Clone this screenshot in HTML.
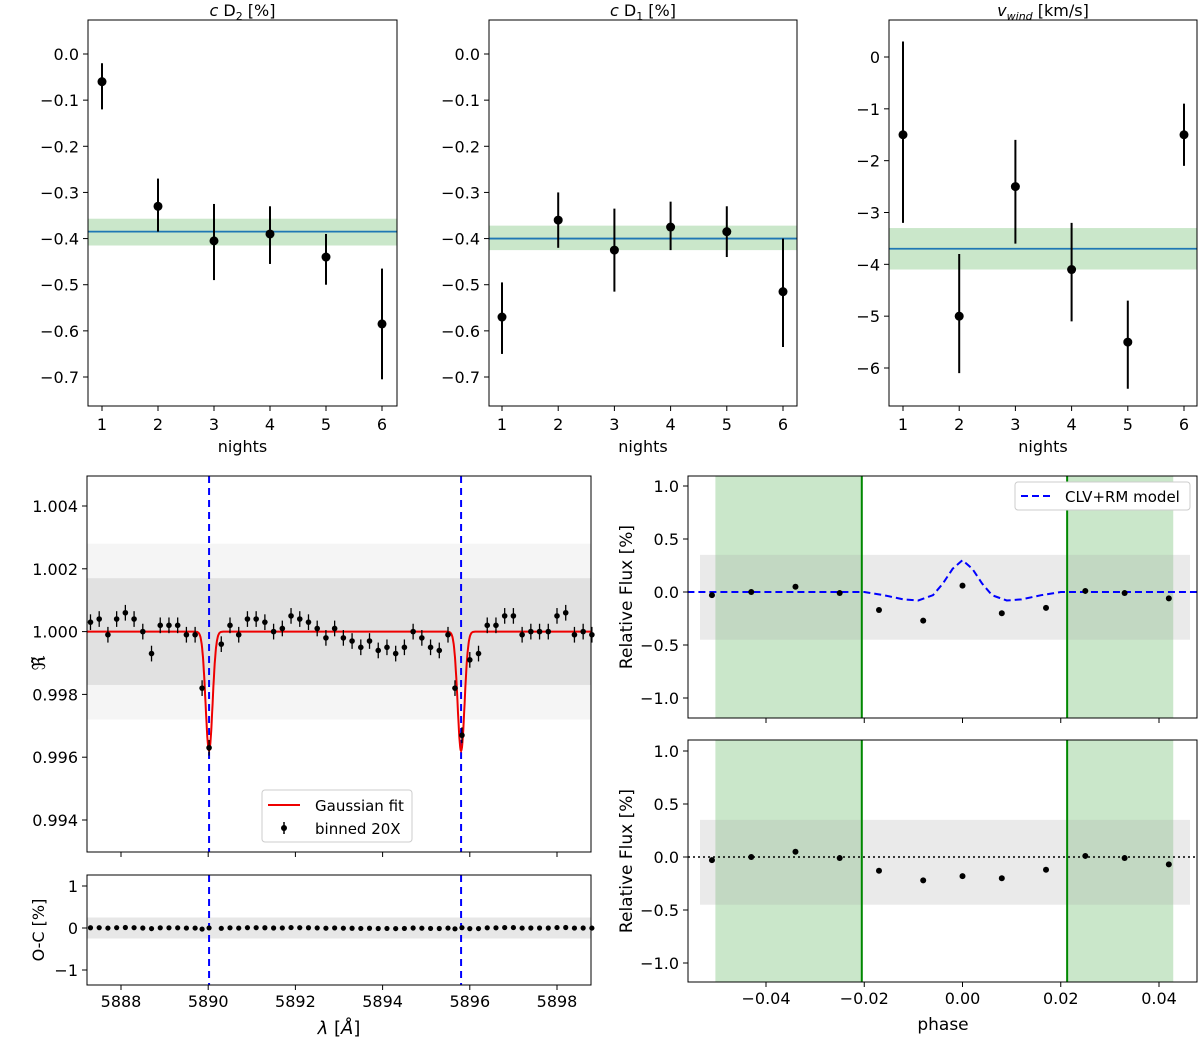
<!DOCTYPE html>
<html><head><meta charset="utf-8"><style>
body{margin:0;background:#fff;}
svg{display:block;font-family:"DejaVu Sans","Liberation Sans",sans-serif;}
</style></head><body>
<svg id="c" width="1200" height="1042" xmlns="http://www.w3.org/2000/svg"></svg>
<script>
const nights=[1,2,3,4,5,6];
const d2Val=[-0.06,-0.33,-0.405,-0.39,-0.44,-0.585];
const d2Lo=[-0.12,-0.385,-0.49,-0.455,-0.5,-0.705];
const d2Hi=[-0.02,-0.27,-0.325,-0.33,-0.39,-0.465];
const d2Mean=[-0.385,-0.357,-0.415];
const d1Val=[-0.57,-0.36,-0.425,-0.375,-0.385,-0.515];
const d1Lo=[-0.65,-0.42,-0.515,-0.425,-0.44,-0.635];
const d1Hi=[-0.495,-0.30,-0.335,-0.32,-0.33,-0.40];
const d1Mean=[-0.40,-0.372,-0.425];
const wVal=[-1.5,-5.0,-2.5,-4.1,-5.5,-1.5];
const wLo=[-3.2,-6.1,-3.6,-5.1,-6.4,-2.1];
const wHi=[0.3,-3.8,-1.6,-3.2,-4.7,-0.9];
const wMean=[-3.7,-3.3,-4.1];
const specWl=[5887.3,5887.5,5887.7,5887.9,5888.1,5888.3,5888.5,5888.7,5888.9,5889.1,5889.3,5889.5,5889.7,5889.86,5890.02,5890.3,5890.5,5890.7,5890.9,5891.1,5891.3,5891.5,5891.7,5891.9,5892.1,5892.3,5892.5,5892.7,5892.9,5893.1,5893.3,5893.5,5893.7,5893.9,5894.1,5894.3,5894.5,5894.7,5894.9,5895.1,5895.3,5895.5,5895.66,5895.82,5896.0,5896.2,5896.4,5896.6,5896.8,5897.0,5897.2,5897.4,5897.6,5897.8,5898.0,5898.2,5898.4,5898.6,5898.8];
const specVal=[1.0003,1.0004,0.9999,1.0004,1.0006,1.0004,1.0000,0.9993,1.0002,1.0002,1.0002,0.9999,0.9999,0.9982,0.9963,0.9996,1.0002,0.9999,1.0004,1.0004,1.0003,1.0000,1.0001,1.0005,1.0004,1.0003,1.0001,0.9998,1.0001,0.9998,0.9997,0.9995,0.9997,0.9994,0.9995,0.9993,0.9995,1.0000,0.9998,0.9995,0.9994,0.9999,0.9982,0.9967,0.9991,0.9993,1.0002,1.0002,1.0005,1.0005,0.9999,1.0000,1.0000,1.0000,1.0005,1.0006,0.9999,1.0000,0.9999];
const lineCenters=[5890.02,5895.8];
const gaussDepth=0.0038, gaussSigma=0.08;
const phase=[-0.051,-0.043,-0.034,-0.025,-0.017,-0.008,0.0,0.008,0.017,0.025,0.033,0.042];
const fluxTop=[-0.03,0.0,0.05,-0.01,-0.17,-0.27,0.06,-0.2,-0.15,0.01,-0.01,-0.06];
const fluxBot=[-0.03,0.0,0.05,-0.01,-0.13,-0.22,-0.18,-0.2,-0.12,0.01,-0.01,-0.07];
const modelPh=[-0.056,-0.02,-0.016,-0.012,-0.009,-0.006,-0.004,-0.002,0.0,0.002,0.004,0.006,0.009,0.012,0.016,0.02,0.048];
const modelVal=[0,0,-0.03,-0.07,-0.08,-0.03,0.08,0.22,0.3,0.22,0.08,-0.03,-0.08,-0.07,-0.03,0,0];
const transitEdges=[-0.0503,-0.0205,0.0213,0.0429];

const S=document.getElementById('c');const NS='http://www.w3.org/2000/svg';
function el(t,a,p){const e=document.createElementNS(NS,t);for(const k in a)e.setAttribute(k,a[k]);(p||S).appendChild(e);return e;}
function txt(x,y,s,a,p){const e=el('text',Object.assign({x:x,y:y,'font-size':16,fill:'#000'},a||{}),p);e.textContent=s;return e;}
function lin(a,b,c,d){return v=>c+(v-a)*(d-c)/(b-a);}

function topPanel(name,x0,x1,title,xs,ys,yt,val,lo,hi,mean,yticks,fmt){
 const g=el('g',{});
 const X=lin(1,6,xs[0],xs[1]), Y=lin(yt[0],yt[1],yt[2],yt[3]);
 const band=el('rect',{x:x0,y:Y(mean[1]),width:x1-x0,height:Y(mean[2])-Y(mean[1]),fill:'#2ca02c','fill-opacity':0.25},g);
 
 const ml=el('line',{x1:x0,x2:x1,y1:Y(mean[0]),y2:Y(mean[0]),stroke:'#1f77b4','stroke-width':1.8},g);
 
 for(let i=0;i<nights.length;i++){
  const e=el('line',{x1:X(nights[i]),x2:X(nights[i]),y1:Y(lo[i]),y2:Y(hi[i]),stroke:'#000','stroke-width':2},g);
  
  const c=el('circle',{cx:X(nights[i]),cy:Y(val[i]),r:4.5,fill:'#000'},g);
  
 }
 el('rect',{x:x0,y:20,width:x1-x0,height:386,fill:'none',stroke:'#000','stroke-width':1},g);
 for(const n of nights){el('line',{x1:X(n),x2:X(n),y1:406,y2:411,stroke:'#000'},g);txt(X(n),430,String(n),{'text-anchor':'middle'},g);}
 for(const t of yticks){el('line',{x1:x0-5,x2:x0,y1:Y(t),y2:Y(t),stroke:'#000'},g);txt(x0-9,Y(t)+6,fmt(t),{'text-anchor':'end'},g);}
 txt((x0+x1)/2,452,'nights',{'text-anchor':'middle'},g);
 const tt=txt((x0+x1)/2,16,'',{'text-anchor':'middle'},g);tt.innerHTML=title;
}
const f1=t=>(t===0?'0.0':t.toFixed(1).replace('-','\u2212'));
const yt1=[0,-0.1,-0.2,-0.3,-0.4,-0.5,-0.6,-0.7];
topPanel('panel-c-d2',88,397,'<tspan font-style="italic">c</tspan> D<tspan font-size="11" dy="4">2</tspan><tspan dy="-4"> [%]</tspan>',[102,382],0,[0,-0.7,54,377],d2Val,d2Lo,d2Hi,d2Mean,yt1,f1);
topPanel('panel-c-d1',489,797,'<tspan font-style="italic">c</tspan> D<tspan font-size="11" dy="4">1</tspan><tspan dy="-4"> [%]</tspan>',[502,783],0,[0,-0.7,54,377],d1Val,d1Lo,d1Hi,d1Mean,yt1,f1);
topPanel('panel-v-wind',889,1197,'<tspan font-style="italic">v</tspan><tspan font-style="italic" font-size="11" dy="4">wind</tspan><tspan dy="-4"> [km/s]</tspan>',[903,1184],0,[0,-6,57,368],wVal,wLo,wHi,wMean,[0,-1,-2,-3,-4,-5,-6],t=>String(t).replace('-','\u2212'));

const XW=lin(5888,5898,121,557), YS=lin(1.004,0.994,506,820);
const g1=el('g',{});
el('rect',{x:87,y:YS(1.0017),width:504,height:YS(0.9983)-YS(1.0017),fill:'#bbb','fill-opacity':0.35},g1);
el('rect',{x:87,y:YS(1.0028),width:504,height:YS(0.9972)-YS(1.0028),fill:'#ccc','fill-opacity':0.2},g1);
for(const c of lineCenters){const l=el('line',{x1:XW(c),x2:XW(c),y1:476,y2:852,stroke:'#0000ff','stroke-width':2,'stroke-dasharray':'7,5'},g1);}
let pd='';for(let w=5887.22;w<=5898.78;w+=0.01){let v=1;for(const c of lineCenters)v-=gaussDepth*Math.exp(-((w-c)**2)/(2*gaussSigma**2));pd+=(pd?'L':'M')+XW(w).toFixed(1)+','+YS(v).toFixed(1);}
const gf=el('path',{d:pd,fill:'none',stroke:'#e00','stroke-width':2},g1);
for(let i=0;i<specWl.length;i++){
 el('line',{x1:XW(specWl[i]),x2:XW(specWl[i]),y1:YS(specVal[i]+0.00025),y2:YS(specVal[i]-0.00025),stroke:'#000','stroke-width':1.3},g1);
 const c=el('circle',{cx:XW(specWl[i]),cy:YS(specVal[i]),r:2.8,fill:'#000'},g1);
}
el('rect',{x:87,y:476,width:504,height:376,fill:'none',stroke:'#000'},g1);
for(const t of [1.004,1.002,1.000,0.998,0.996,0.994]){el('line',{x1:82,x2:87,y1:YS(t),y2:YS(t),stroke:'#000'},g1);txt(78,YS(t)+6,t.toFixed(3),{'text-anchor':'end'},g1);}
for(let t=5888;t<=5898;t+=2)el('line',{x1:XW(t),x2:XW(t),y1:852,y2:857,stroke:'#000'},g1);
txt(40,668,'ℜ̃',{'text-anchor':'middle',transform:'rotate(-90 40 663)','font-size':18},g1);
const lg=el('g',{},g1);
el('rect',{x:262,y:790,width:150,height:52,fill:'#fff',stroke:'#ccc',rx:3},lg);
el('line',{x1:268,x2:300,y1:805,y2:805,stroke:'#e00','stroke-width':2},lg);txt(315,811,'Gaussian fit',{'font-size':15},lg);
el('line',{x1:284,x2:284,y1:822,y2:834,stroke:'#000','stroke-width':1.5},lg);el('circle',{cx:284,cy:828,r:3,fill:'#000'},lg);txt(315,834,'binned 20X',{'font-size':15},lg);

const YO=lin(1,-1,886,970);
const g2=el('g',{});
el('rect',{x:87,y:YO(0.25),width:504,height:YO(-0.25)-YO(0.25),fill:'#bbb','fill-opacity':0.35},g2);
for(const c of lineCenters)el('line',{x1:XW(c),x2:XW(c),y1:875,y2:985,stroke:'#0000ff','stroke-width':2,'stroke-dasharray':'7,5'},g2);
for(let i=0;i<specWl.length;i++){let m=1;for(const c of lineCenters)m-=gaussDepth*Math.exp(-((specWl[i]-c)**2)/(2*gaussSigma**2));const r=(specVal[i]-m)*20;const c=el('circle',{cx:XW(specWl[i]),cy:YO(r),r:2.6,fill:'#000'},g2);}
el('rect',{x:87,y:875,width:504,height:110,fill:'none',stroke:'#000'},g2);
for(const t of [1,0,-1]){el('line',{x1:82,x2:87,y1:YO(t),y2:YO(t),stroke:'#000'},g2);txt(78,YO(t)+6,String(t).replace('-','\u2212'),{'text-anchor':'end'},g2);}
for(let t=5888;t<=5898;t+=2){el('line',{x1:XW(t),x2:XW(t),y1:985,y2:990,stroke:'#000'},g2);txt(XW(t),1007,String(t),{'text-anchor':'middle'},g2);}
txt(44,930,'O-C [%]',{'text-anchor':'middle',transform:'rotate(-90 44 930)'},g2);
txt(339,1034,'',{'text-anchor':'middle','font-size':18},g2).innerHTML='<tspan font-style="italic">λ</tspan> [<tspan font-style="italic">Å</tspan>]';

const XP=lin(-0.04,0.04,766,1159);
function phasePanel(name,y0,y1,yz,vals,model){
 const YP=lin(1,-1,yz-106,yz+106);
 const g=el('g',{});
 for(const [a,b] of [[0,1],[2,3]]){const r=el('rect',{x:XP(transitEdges[a]),y:y0,width:XP(transitEdges[b])-XP(transitEdges[a]),height:y1-y0,fill:'#2ca02c','fill-opacity':0.25},g);}
 el('rect',{x:700,y:YP(0.35),width:490,height:YP(-0.45)-YP(0.35),fill:'#aaa','fill-opacity':0.25},g);
 for(const e of [transitEdges[1],transitEdges[2]])el('line',{x1:XP(e),x2:XP(e),y1:y0,y2:y1,stroke:'#080','stroke-width':2},g);
 if(model){let d='';for(let i=0;i<modelPh.length;i++)d+=(i?'L':'M')+XP(modelPh[i]).toFixed(1)+','+YP(modelVal[i]).toFixed(1);const p=el('path',{d:d,fill:'none',stroke:'#0000ff','stroke-width':2,'stroke-dasharray':'7,4'},g);}
 else{const l=el('line',{x1:688,x2:1197,y1:YP(0),y2:YP(0),stroke:'#000','stroke-width':1.6,'stroke-dasharray':'2,3'},g);}
 for(let i=0;i<phase.length;i++){const c=el('circle',{cx:XP(phase[i]),cy:YP(vals[i]),r:3,fill:'#000'},g);}
 el('rect',{x:688,y:y0,width:509,height:y1-y0,fill:'none',stroke:'#000'},g);
 for(const t of [1,0.5,0,-0.5,-1]){el('line',{x1:683,x2:688,y1:YP(t),y2:YP(t),stroke:'#000'},g);txt(679,YP(t)+6,t.toFixed(1).replace('-','\u2212'),{'text-anchor':'end'},g);}
 for(const t of [-0.04,-0.02,0,0.02,0.04])el('line',{x1:XP(t),x2:XP(t),y1:y1,y2:y1+5,stroke:'#000'},g);
 const cy=(y0+y1)/2;txt(632,cy,'Relative Flux [%]',{'text-anchor':'middle',transform:`rotate(-90 632 ${cy})`,'font-size':17},g);
 return g;
}
const gt=phasePanel('light-curve-model-panel',476,718,592,fluxTop,true);
const lg2=el('g',{},gt);
el('rect',{x:1015,y:482,width:175,height:28,fill:'#fff',stroke:'#ccc',rx:3},lg2);
el('line',{x1:1021,x2:1053,y1:496,y2:496,stroke:'#0000ff','stroke-width':2,'stroke-dasharray':'7,4'},lg2);
txt(1065,502,'CLV+RM model',{'font-size':15},lg2);
const gb=phasePanel('light-curve-corrected-panel',740,982,857,fluxBot,false);
for(const t of [-0.04,-0.02,0,0.02,0.04])txt(XP(t),1004,t===0?'0.00':t.toFixed(2).replace('-','\u2212'),{'text-anchor':'middle'},gb);
txt(943,1030,'phase',{'text-anchor':'middle','font-size':17},gb);
</script>
</body></html>
